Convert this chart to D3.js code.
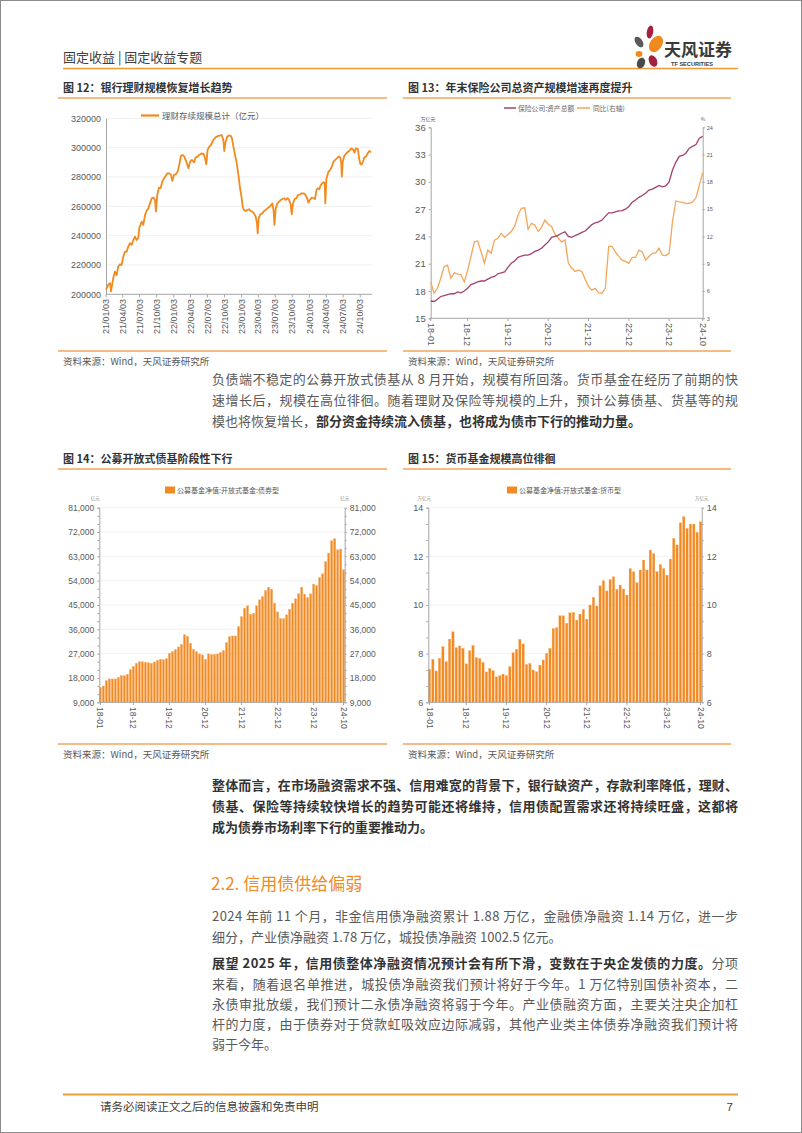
<!DOCTYPE html>
<html>
<head>
<meta charset="utf-8">
<script src="https://cdnjs.cloudflare.com/ajax/libs/d3/7.8.5/d3.min.js"></script>
<style>
  body { margin: 0; background: #fff; }
  svg { display: block; font-family: "Noto Sans CJK SC", "Liberation Sans", sans-serif; }
</style>
</head>
<body>
<div id="page"></div>
<script>
// Figure 12: bank wealth-management products outstanding (亿元)
const wmpDates = [
  "2021-01-03","2021-01-16","2021-01-25","2021-01-30","2021-02-11","2021-02-20","2021-03-01","2021-03-10","2021-03-19","2021-03-28",
  "2021-04-06","2021-04-15","2021-04-24","2021-05-03","2021-05-12","2021-05-21","2021-05-30","2021-06-08","2021-06-17","2021-06-26",
  "2021-07-01","2021-07-14","2021-07-23","2021-08-01","2021-08-10","2021-08-19","2021-08-28","2021-09-06","2021-09-15","2021-09-24",
  "2021-09-29","2021-10-06","2021-10-15","2021-10-24","2021-11-02","2021-11-11","2021-11-20","2021-11-29","2021-12-08","2021-12-19",
  "2021-12-26","2022-01-04","2022-01-13","2022-01-24","2022-02-03","2022-02-10","2022-02-19","2022-03-01","2022-03-10","2022-03-23",
  "2022-04-01","2022-04-10","2022-04-22","2022-05-01","2022-05-12","2022-05-19","2022-06-02","2022-06-13","2022-06-20","2022-06-27",
  "2022-07-04","2022-07-13","2022-07-22","2022-08-04","2022-08-16","2022-08-31","2022-09-09","2022-09-18","2022-09-27","2022-10-02",
  "2022-10-09","2022-10-18","2022-10-27","2022-11-05","2022-11-12","2022-11-20","2022-11-29","2022-12-08","2022-12-17","2022-12-26",
  "2023-01-04","2023-01-09","2023-01-16","2023-01-25","2023-02-03","2023-02-12","2023-02-21","2023-03-02","2023-03-11","2023-03-20",
  "2023-03-27","2023-03-31","2023-04-05","2023-04-14","2023-04-25","2023-05-04","2023-05-13","2023-05-22","2023-05-31","2023-06-09",
  "2023-06-18","2023-06-25","2023-06-29","2023-07-06","2023-07-15","2023-07-24","2023-08-02","2023-08-11","2023-08-20","2023-08-29",
  "2023-09-07","2023-09-16","2023-09-25","2023-09-30","2023-10-07","2023-10-16","2023-10-25","2023-11-03","2023-11-14","2023-11-23",
  "2023-12-02","2023-12-11","2023-12-22","2023-12-29","2024-01-05","2024-01-16","2024-01-27","2024-02-03","2024-02-10","2024-02-17",
  "2024-02-26","2024-03-04","2024-03-13","2024-03-20","2024-03-26","2024-03-29","2024-04-04","2024-04-15","2024-04-24","2024-05-03",
  "2024-05-12","2024-05-21","2024-05-30","2024-06-08","2024-06-17","2024-06-22","2024-06-26","2024-07-01","2024-07-08","2024-07-17",
  "2024-07-26","2024-08-04","2024-08-13","2024-08-18","2024-08-27","2024-09-02","2024-09-09","2024-09-20","2024-09-27","2024-10-04",
  "2024-10-11","2024-10-18","2024-10-25","2024-11-03","2024-11-12","2024-11-21","2024-11-30"
];
const wmpValues = [
  203000,206800,207500,202000,211000,215500,213000,219000,220500,220000,
  225700,229000,229000,232500,234800,233700,237000,239300,237000,238600,
  245000,249500,247300,254000,257000,258600,262000,265500,265900,264300,
  256400,267700,272700,272300,276800,279000,280700,282500,282500,281400,
  277300,281400,281800,283600,289300,294300,295000,293900,291000,286000,
  290500,291600,290000,293400,293900,295000,296000,295700,292700,288600,
  298400,300700,301800,305200,307000,308000,308200,308600,305000,297700,
  304000,307500,308200,308200,306400,300700,295000,289300,281400,272300,
  265500,259800,257500,256800,257500,258000,256800,256400,255200,253000,
  248400,241600,251800,254500,255200,256800,257500,258600,259300,260500,
  262000,256400,247300,258600,262000,263200,264300,265000,265500,264300,
  265500,264300,261000,254500,262000,265000,265500,267700,268200,268800,
  268800,268200,265500,262500,264300,266000,265500,265000,271000,272300,
  271600,274500,275700,276400,275700,262000,279000,283600,284800,287000,
  290500,291600,292700,293900,293400,290500,280200,290500,293900,295700,
  296800,297700,299100,299500,298400,296600,299500,299100,292700,288600,
  288600,290500,293200,293900,296100,297700,296800
];
const wmpTicks = ["21/01/03","21/04/03","21/07/03","21/10/03","22/01/03","22/04/03","22/07/03","22/10/03",
  "23/01/03","23/04/03","23/07/03","23/10/03","24/01/03","24/04/03","24/07/03","24/10/03"];

// Monthly categories 2018-01 .. 2024-10 shared by figures 13-15
const months = d3.timeMonth.range(new Date(2018, 0, 1), new Date(2024, 10, 1));
const monthTicks = ["18-01","18-12","19-12","20-12","21-12","22-12","23-12","24-10"];

// Figure 13: insurance total assets (万亿元) and yoy (%)
const insAssets = [
  16.9,16.85,17.1,17.4,17.5,17.6,17.7,17.7,17.9,17.8,
  18.0,18.3,18.7,18.85,19.0,19.1,19.1,19.3,19.5,19.6,
  19.9,20.0,20.1,20.6,21.05,21.3,21.7,21.85,21.95,21.95,
  22.1,22.35,22.5,22.7,23.05,23.4,23.9,24.0,24.15,24.35,
  24.5,24.0,23.9,24.1,24.25,24.45,24.6,24.95,25.3,25.5,
  25.6,25.8,26.2,26.6,26.6,26.7,26.8,26.85,27.0,27.3,
  27.75,28.0,28.3,28.5,28.75,29.1,29.2,29.4,29.6,29.45,
  29.55,30.0,31.3,32.15,32.8,32.9,33.15,33.7,33.9,34.1,
  34.8,35.0
];
const insYoY = [
  7.0,5.75,6.3,7.4,8.7,8.85,7.4,8.0,7.85,7.8,
  7.0,8.3,9.8,11.4,11.5,10.3,9.05,10.5,10.15,11.6,
  11.8,12.35,11.9,12.25,12.55,13.1,14.35,15.1,15.15,12.8,
  13.45,13.25,12.55,13.0,13.8,13.35,13.1,12.25,11.8,11.4,
  11.6,9.05,8.5,8.15,8.3,8.15,7.3,6.5,6.1,6.3,
  5.8,5.75,6.3,10.9,10.9,10.3,9.8,9.4,9.25,9.05,
  9.7,9.7,10.5,10.3,9.4,9.8,10.15,10.2,10.7,9.95,
  9.9,10.15,13.6,15.9,15.8,15.75,15.6,15.65,15.8,16.25,
  17.65,19.0
];

// Figure 14: open-end bond funds NAV (亿元)
const bondFund = [
  14560,15050,17030,17650,17650,17650,18260,18880,18880,19370,
  21100,22340,23450,24070,24070,23820,23700,23450,23940,24560,
  24930,24810,25180,27150,27770,28510,29500,30490,34070,33450,
  30860,28640,27770,26910,26540,24930,26910,26660,26790,26910,
  27520,28140,31100,33330,33580,33580,37030,40740,43830,44690,
  41600,41970,44690,46910,48150,50370,51610,50870,45680,42470,
  40000,40000,41360,43460,45680,47290,49140,51610,49010,47780,
  49140,52720,52230,55190,56550,61120,64200,68770,69520,65440,
  65690,58030
];

// Figure 15: money market funds NAV (万亿元)
const moneyFund = [
  7.36,7.77,7.29,7.81,8.29,7.67,8.6,8.9,8.25,8.32,
  8.22,7.58,8.12,8.34,7.84,7.81,7.64,7.25,7.4,7.3,
  7.05,7.1,7.16,7.1,7.47,8.04,8.18,8.59,8.4,7.56,
  7.6,7.33,7.26,7.53,7.74,8.01,8.22,9.04,9.07,9.56,
  9.56,9.25,9.68,9.7,9.38,9.63,9.82,9.42,10.0,10.32,
  9.96,10.79,11.0,10.58,11.05,11.16,10.64,10.82,10.66,10.41,
  11.5,11.37,10.92,11.44,11.85,11.44,12.26,12.12,11.37,11.67,
  11.5,11.23,11.89,12.74,12.47,13.38,13.63,13.15,13.33,13.33,
  12.99,13.42
];

const W = 802, H = 1133;
const orange = "#F28A1E";
const rule = "#F0A45C";
const textGray = "#595959";
const axisGray = "#a6a6a6";
const numFont = "'Liberation Sans', 'Noto Sans CJK SC', sans-serif";
const fmtMonth = d3.timeFormat("%y-%m");

const svg = d3.select("#page").append("svg")
    .attr("width", W)
    .attr("height", H)
    .attr("viewBox", [0, 0, W, H]);

// page frame
svg.append("rect")
    .attr("x", 0.5).attr("y", 0.5).attr("width", W - 1).attr("height", H - 1)
    .attr("fill", "none").attr("stroke", "#8c8c8c");

// ---------- header ----------
svg.append("text").attr("x", 63).attr("y", 62)
    .attr("font-size", 13).attr("fill", "#404040")
    .text("固定收益 | 固定收益专题");
svg.append("line").attr("x1", 63).attr("x2", 738).attr("y1", 68.5).attr("y2", 68.5)
    .attr("stroke", "#EE9A3A").attr("stroke-width", 1.6);

// logo petals
const logo = svg.append("g").attr("transform", "translate(646,47)");
const petals = [
  { cx: 4, cy: -15, rx: 3.2, ry: 6.5, r: 10, c: "#A3203F" },
  { cx: 10, cy: -3, rx: 6, ry: 9, r: 35, c: "#F08A1F" },
  { cx: -7, cy: -5, rx: 3.5, ry: 6, r: -35, c: "#5a5a5a" },
  { cx: -7, cy: 7, rx: 3.5, ry: 3, r: 0, c: "#F08A1F" },
  { cx: -5, cy: 16, rx: 4, ry: 5.5, r: 20, c: "#4a4a4a" },
  { cx: 7, cy: 14, rx: 4, ry: 6, r: -25, c: "#A3203F" }
];
logo.selectAll("ellipse").data(petals).join("ellipse")
    .attr("transform", d => `translate(${d.cx},${d.cy}) rotate(${d.r})`)
    .attr("rx", d => d.rx).attr("ry", d => d.ry)
    .attr("fill", d => d.c);
svg.append("text").attr("x", 664).attr("y", 56)
    .attr("font-size", 17).attr("font-weight", 700).attr("fill", "#3a3a3a")
    .text("天风证券");
svg.append("text").attr("x", 671).attr("y", 65.5)
    .attr("font-size", 5.6).attr("font-weight", 700).attr("fill", "#3a3a3a")
    .attr("font-family", numFont)
    .text("TF SECURITIES");

// ---------- helpers ----------
function figTitle(x1, x2, y, label) {
    svg.append("text").attr("x", x1 + 5).attr("y", y)
        .attr("font-size", 11).attr("font-weight", 700).attr("fill", "#333")
        .text(label);
    svg.append("line").attr("x1", x1).attr("x2", x2).attr("y1", y + 6).attr("y2", y + 6)
        .attr("stroke", rule).attr("stroke-width", 1.4);
}
function figSource(x1, x2, y) {
    svg.append("line").attr("x1", x1).attr("x2", x2).attr("y1", y).attr("y2", y)
        .attr("stroke", rule).attr("stroke-width", 1.4);
    svg.append("text").attr("x", x1 + 5).attr("y", y + 14)
        .attr("font-size", 9.5).attr("fill", textGray)
        .text("资料来源：Wind，天风证券研究所");
}
function rotatedLabels(g, items, xf, y0, angle, size) {
    g.selectAll(null).data(items).join("text")
        .attr("transform", d => `translate(${xf(d)},${y0}) rotate(${angle})`)
        .attr("text-anchor", angle > 0 ? "start" : "end")
        .attr("dy", "0.35em")
        .attr("font-size", size).attr("fill", textGray)
        .attr("font-family", numFont)
        .text(d => d);
}

// ---------- Figure 12 ----------
figTitle(58, 387, 92, "图 12：银行理财规模恢复增长趋势");
{
    const g = svg.append("g");
    const parse = d3.timeParse("%Y-%m-%d");
    const data = wmpDates.map((d, i) => ({ date: parse(d), value: wmpValues[i] }));
    const x = d3.scaleTime().domain([parse("2021-01-03"), parse("2024-11-30")]).range([106, 371]);
    const y = d3.scaleLinear().domain([200000, 320000]).range([294.3, 118.3]);
    const ticks = d3.range(200000, 320001, 20000);

    g.append("g").selectAll("line").data(ticks.slice(1)).join("line")
        .attr("x1", 106).attr("x2", 372)
        .attr("y1", d => y(d)).attr("y2", d => y(d))
        .attr("stroke", "#efefef");

    g.append("g").attr("transform", "translate(106,0)")
        .call(d3.axisLeft(y).tickValues(ticks).tickFormat(d3.format("d")).tickSize(0).tickPadding(5))
        .call(a => a.select(".domain").attr("stroke", axisGray))
        .call(a => a.selectAll("text").attr("font-size", 9).attr("fill", textGray).attr("font-family", numFont));

    const tparse = d3.timeParse("%y/%m/%d");
    g.append("line").attr("x1", 106).attr("x2", 372).attr("y1", 294.3).attr("y2", 294.3).attr("stroke", axisGray);
    g.append("g").selectAll("line").data(wmpTicks).join("line")
        .attr("x1", d => x(tparse(d))).attr("x2", d => x(tparse(d)))
        .attr("y1", 294.3).attr("y2", 297.5).attr("stroke", axisGray);
    rotatedLabels(g, wmpTicks, d => x(tparse(d)), 299, -90, 9);

    g.append("path").datum(data)
        .attr("fill", "none").attr("stroke", orange).attr("stroke-width", 1.8)
        .attr("stroke-linejoin", "round")
        .attr("d", d3.line().x(d => x(d.date)).y(d => y(d.value)));

    g.append("line").attr("x1", 141).attr("x2", 159).attr("y1", 115.5).attr("y2", 115.5)
        .attr("stroke", orange).attr("stroke-width", 2.2);
    g.append("text").attr("x", 162).attr("y", 119)
        .attr("font-size", 8.5).attr("fill", textGray)
        .text("理财存续规模总计（亿元）");
}
figSource(58, 387, 351);

// ---------- Figure 13 ----------
figTitle(403, 731, 92, "图 13：年末保险公司总资产规模增速再度提升");
{
    const g = svg.append("g");
    const purple = "#A2416F", lightOrange = "#F5A65A";
    const x = d3.scalePoint().domain(months).range([430.7, 702.7]);
    const yL = d3.scaleLinear().domain([15, 36]).range([318.3, 127.3]);
    const yR = d3.scaleLinear().domain([3, 24]).range([318.3, 127.3]);

    g.append("g").attr("transform", "translate(430.7,0)")
        .call(d3.axisLeft(yL).tickValues(d3.range(15, 37, 3)).tickSize(2).tickPadding(3))
        .call(a => a.selectAll(".domain,line").attr("stroke", axisGray))
        .call(a => a.selectAll("text").attr("font-size", 9.5).attr("fill", textGray).attr("font-family", numFont));
    g.append("g").attr("transform", "translate(702.7,0)")
        .call(d3.axisRight(yR).tickValues(d3.range(3, 25, 3)).tickSize(2).tickPadding(2))
        .call(a => a.selectAll(".domain,line").attr("stroke", axisGray))
        .call(a => a.selectAll("text").attr("font-size", 5.5).attr("fill", textGray).attr("font-family", numFont));
    g.append("line").attr("x1", 430.7).attr("x2", 702.7).attr("y1", 318.3).attr("y2", 318.3).attr("stroke", axisGray);

    const tickMonths = months.filter(m => monthTicks.includes(fmtMonth(m)));
    g.append("g").selectAll("line").data(tickMonths).join("line")
        .attr("x1", d => x(d)).attr("x2", d => x(d)).attr("y1", 318.3).attr("y2", 321).attr("stroke", axisGray);
    rotatedLabels(g, tickMonths.map(fmtMonth), d => x(tickMonths[monthTicks.indexOf(d)]), 323, 90, 9);

    g.append("text").attr("x", 428).attr("y", 121).attr("text-anchor", "middle")
        .attr("font-size", 5).attr("fill", textGray).text("万亿元");
    g.append("text").attr("x", 703).attr("y", 121).attr("text-anchor", "middle")
        .attr("font-size", 5).attr("fill", textGray).text("%");

    g.append("path").datum(insYoY)
        .attr("fill", "none").attr("stroke", lightOrange).attr("stroke-width", 1.3)
        .attr("d", d3.line().x((d, i) => x(months[i])).y(d => yR(d)));
    g.append("path").datum(insAssets)
        .attr("fill", "none").attr("stroke", purple).attr("stroke-width", 1.3)
        .attr("d", d3.line().x((d, i) => x(months[i])).y(d => yL(d)));

    g.append("line").attr("x1", 504).attr("x2", 516).attr("y1", 108).attr("y2", 108)
        .attr("stroke", purple).attr("stroke-width", 1.5);
    g.append("text").attr("x", 518).attr("y", 110.5).attr("font-size", 6.8).attr("fill", "#666")
        .text("保险公司:资产总额");
    g.append("line").attr("x1", 577).attr("x2", 590).attr("y1", 108).attr("y2", 108)
        .attr("stroke", lightOrange).attr("stroke-width", 1.5);
    g.append("text").attr("x", 593).attr("y", 110.5).attr("font-size", 6.8).attr("fill", "#666")
        .text("同比(右轴)");
}
figSource(403, 731, 351);

// ---------- bar charts (figures 14 and 15) ----------
function barChart(opt) {
    const g = svg.append("g");
    const x = d3.scaleBand().domain(months).range([opt.x0, opt.x1]).paddingInner(0.28).paddingOuter(0);
    const y = d3.scaleLinear().domain(opt.domain).range([702.3, 507.7]);
    const major = d3.range(opt.domain[0], opt.domain[1] + 1e-9, opt.step);
    const minor = d3.range(opt.domain[0], opt.domain[1] + 1e-9, opt.step / 3);

    g.append("g").selectAll("line").data(major.slice(1)).join("line")
        .attr("x1", opt.x0).attr("x2", opt.x1)
        .attr("y1", d => y(d)).attr("y2", d => y(d))
        .attr("stroke", "#f1f1f1");

    g.append("g").selectAll("rect").data(opt.values).join("rect")
        .attr("x", (d, i) => x(months[i]))
        .attr("width", x.bandwidth())
        .attr("y", d => y(d))
        .attr("height", d => y(opt.domain[0]) - y(d))
        .attr("fill", "#F28A24")
        .attr("stroke", "#F9B572").attr("stroke-width", 0.3);

    for (const side of ["left", "right"]) {
        const ax = side === "left" ? d3.axisLeft(y) : d3.axisRight(y);
        const xp = side === "left" ? opt.x0 : opt.x1;
        g.append("g").attr("transform", `translate(${xp},0)`)
            .call(ax.tickValues(minor).tickSize(2).tickPadding(3)
                .tickFormat(d => major.some(m => Math.abs(m - d) < 1e-6) ? opt.fmt(d) : ""))
            .call(a => a.selectAll(".domain,line").attr("stroke", axisGray))
            .call(a => a.selectAll("text").attr("font-size", opt.fs).attr("fill", textGray).attr("font-family", numFont));
        g.append("text").attr("x", side === "left" ? xp - 4 : xp).attr("y", 500)
            .attr("text-anchor", "middle").attr("font-size", 4.5).attr("fill", "#888")
            .text(opt.unit);
    }
    g.append("line").attr("x1", opt.x0).attr("x2", opt.x1).attr("y1", 702.3).attr("y2", 702.3).attr("stroke", axisGray);

    const tickMonths = months.filter(m => monthTicks.includes(fmtMonth(m)));
    g.append("g").selectAll("line").data(tickMonths).join("line")
        .attr("x1", d => x(d) + x.bandwidth() / 2).attr("x2", d => x(d) + x.bandwidth() / 2)
        .attr("y1", 702.3).attr("y2", 705).attr("stroke", axisGray);
    rotatedLabels(g, tickMonths.map(fmtMonth),
        d => x(tickMonths[monthTicks.indexOf(d)]) + x.bandwidth() / 2, 707, 90, 8.5);

    g.append("rect").attr("x", opt.legendX).attr("y", 486.5).attr("width", 10).attr("height", 7)
        .attr("fill", "#F28A24");
    g.append("text").attr("x", opt.legendX + 12).attr("y", 492.5)
        .attr("font-size", 7).attr("fill", "#555").text(opt.legend);
}

figTitle(58, 387, 463, "图 14：公募开放式债基阶段性下行");
barChart({
    values: bondFund, x0: 99.3, x1: 344.7, domain: [9000, 81000], step: 9000,
    fmt: d3.format(","), fs: 8.5, unit: "亿元", legendX: 165, legend: "公募基金净值:开放式基金:债券型"
});
figSource(58, 387, 744);

figTitle(403, 731, 463, "图 15：货币基金规模高位徘徊");
barChart({
    values: moneyFund, x0: 428.3, x1: 701.7, domain: [6, 14], step: 2,
    fmt: d3.format("d"), fs: 9, unit: "万亿元", legendX: 507, legend: "公募基金净值:开放式基金:货币型"
});
figSource(403, 731, 744);

// ---------- body text ----------
function bodyLine(y, parts, justify, opts = {}) {
    const t = svg.append("text").attr("x", 212).attr("y", y)
        .attr("font-size", opts.size || 13);
    if (justify) t.attr("textLength", 526).attr("lengthAdjust", "spacing");
    parts.forEach(([s, bold]) => {
        t.append("tspan")
            .attr("font-weight", bold ? 700 : 400)
            .attr("fill", bold ? "#333" : textGray)
            .text(s);
    });
}

bodyLine(384, [["负债端不稳定的公募开放式债基从 8 月开始，规模有所回落。货币基金在经历了前期的快", false]], true);
bodyLine(405, [["速增长后，规模在高位徘徊。随着理财及保险等规模的上升，预计公募债基、货基等的规", false]], true);
bodyLine(426, [["模也将恢复增长，", false], ["部分资金持续流入债基，也将成为债市下行的推动力量。", true]], false);

bodyLine(790, [["整体而言，在市场融资需求不强、信用难宽的背景下，银行缺资产，存款利率降低，理财、", true]], true);
bodyLine(811, [["债基、保险等持续较快增长的趋势可能还将维持，信用债配置需求还将持续旺盛，这都将", true]], true);
bodyLine(832, [["成为债券市场利率下行的重要推动力。", true]], false);

svg.append("text").attr("x", 211).attr("y", 890)
    .attr("font-size", 17).attr("fill", "#F08A24")
    .text("2.2. 信用债供给偏弱");

bodyLine(921, [["2024 年前 11 个月，非金信用债净融资累计 1.88 万亿，金融债净融资 1.14 万亿，进一步", false]], true);
bodyLine(942, [["细分，产业债净融资 1.78 万亿，城投债净融资 1002.5 亿元。", false]], false);

bodyLine(968, [["展望 2025 年，信用债整体净融资情况预计会有所下滑，变数在于央企发债的力度。", true], ["分项", false]], true);
bodyLine(989, [["来看，随着退名单推进，城投债净融资我们预计将好于今年。1 万亿特别国债补资本，二", false]], true);
bodyLine(1009, [["永债审批放缓，我们预计二永债净融资将弱于今年。产业债融资方面，主要关注央企加杠", false]], true);
bodyLine(1029, [["杆的力度，由于债券对于贷款虹吸效应边际减弱，其他产业类主体债券净融资我们预计将", false]], true);
bodyLine(1049, [["弱于今年。", false]], false);

// ---------- footer ----------
svg.append("line").attr("x1", 63).attr("x2", 738).attr("y1", 1094.5).attr("y2", 1094.5)
    .attr("stroke", "#E8A23A").attr("stroke-width", 2);
svg.append("text").attr("x", 100).attr("y", 1111)
    .attr("font-size", 11.5).attr("fill", "#404040")
    .text("请务必阅读正文之后的信息披露和免责申明");
svg.append("text").attr("x", 733).attr("y", 1111).attr("text-anchor", "end")
    .attr("font-size", 11.5).attr("fill", "#404040").attr("font-family", numFont)
    .text("7");
</script>
</body>
</html>
